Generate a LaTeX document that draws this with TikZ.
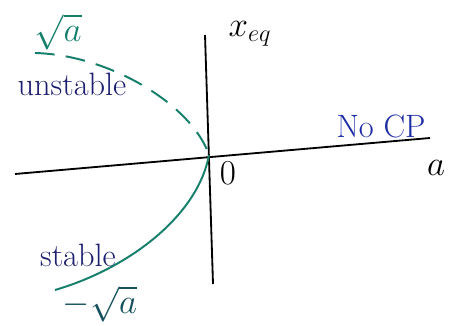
\documentclass[tikz,border=0pt]{standalone}
\usepackage{amsmath, amssymb}
\usepackage{xcolor}
\usetikzlibrary{positioning, calc}

\definecolor{penteal}{RGB}{22,128,108}
\definecolor{pennavy}{RGB}{28,30,112}
\definecolor{penblue}{RGB}{30,44,165}
\definecolor{pendark}{RGB}{22,80,92}

\begin{document}
\begin{tikzpicture}[x=0.025cm, y=-0.025cm,
  axis/.style={line width=1.3pt, black},
  branch/.style={line width=1.4pt, penteal},
  lbl/.style={font=\fontsize{23}{26}\selectfont, inner sep=1pt},
  mlbl/.style={font=\fontsize{26}{30}\selectfont, inner sep=1pt}
]
  \useasboundingbox (0,0) rectangle (464,326);

  % Axes
  \coordinate (vtop) at (205,35);
  \coordinate (vbot) at (213,284);
  \coordinate (hleft) at (15,174);
  \coordinate (hright) at (430,138);
  \coordinate (orig) at (209,155);
  \draw[axis] (vtop) -- (vbot);
  \draw[axis] (hleft) -- (hright);

  % Branches
  \coordinate (upend) at (35,53);
  \coordinate (lowend) at (55,290);
  \draw[branch, dash pattern=on 14pt off 8pt]
    (upend) .. controls (110,55) and (192,105) .. (orig);
  \draw[branch] (orig) .. controls (198,215) and (130,268) .. (lowend);

  % Labels
  \node[mlbl] (xeq) at (250,34) {$x_{eq}$};
  \node[mlbl] (alab) at (436,168) {$a$};
  \node[lbl] (zero) at (228,173) {$0$};
  \node[lbl, penblue] (nocp) at (381,126) {No CP};
  \node[lbl, pennavy] (unst) at (72,84) {unstable};
  \node[lbl, pennavy] (stab) at (78,255) {stable};
  \node[mlbl, penteal] (sqp) at (58,32) {$\sqrt{a}$};
  \node[mlbl, pendark] (sqm) at (100,304) {$-\sqrt{a}$};
\end{tikzpicture}
\end{document}
